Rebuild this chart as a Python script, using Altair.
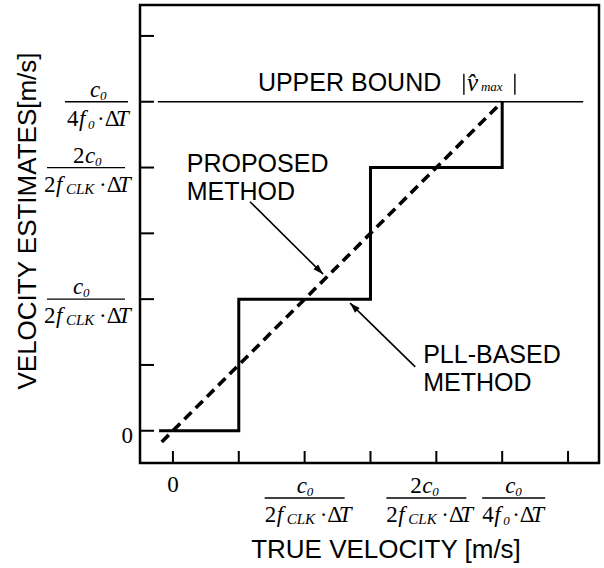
import altair as alt
import pandas as pd

# ---------------- data ----------------
tick_values = [0, 1, 2, 3, 4, 5, 6]

pll_x = [-0.21, 1, 1, 3, 3, 5, 5]
pll_y = [0, 0, 2, 2, 4, 4, 5]

proposed_x = [-0.17, 5]
proposed_y = [-0.17, 5]

bound_x = [-0.23, 6.23]
bound_y = [5, 5]

arrow_names = ["proposed", "pll"]
arrow_start_x = [1.17, 3.68]
arrow_start_y = [3.48, 0.97]
arrow_tip_x = [2.28, 2.69]
arrow_tip_y = [2.38, 1.94]

zero_label = "0"
frac_values = [2, 4, 5]
frac_numerators = ["c0", "2c0", "c0"]
frac_denominators = ["2fCLK·ΔT", "2fCLK·ΔT", "4f0·ΔT"]

annotation_texts = ["UPPER BOUND", "PROPOSED\nMETHOD", "PLL-BASED\nMETHOD"]
annotation_x = [1.29, 0.21, 3.80]
annotation_y = [5, 3.93, 1.03]
vmax_texts = ["v\u0302", "max"]

x_title = "TRUE VELOCITY [m/s]"
y_title = "VELOCITY ESTIMATES[m/s]"

x_domain = [-0.5, 6.47]
y_domain = [-0.49, 6.47]

# ---------------- layout / style ----------------
W, H = 459, 458
SERIF = "Liberation Serif"
SANS = "Liberation Sans"
FS = 23      # serif label size
SUB = 13     # subscript size

# pieces: (text, size, style, dx from left, dy from baseline)
NUM_LAYOUT = {
    "c0": [("c", FS, "italic", 0, 0), ("0", SUB, "italic", 10, 3)],
    "2c0": [("2", FS, "normal", 0, 0), ("c", FS, "italic", 12, 0), ("0", SUB, "italic", 22, 3)],
}
DEN_LAYOUT = {
    "2fCLK·ΔT": [("2", FS, "normal", 0, 0), ("f", FS, "italic", 12, 0),
                  ("CLK", 15, "italic", 22, 2), ("·Δ", FS, "normal", 55, 0),
                  ("T", FS, "italic", 74, 0)],
    "4f0·ΔT": [("4", FS, "normal", 0, 0), ("f", FS, "italic", 12, 0),
                ("0", SUB, "italic", 21, 3), ("·Δ", FS, "normal", 30, 0),
                ("T", FS, "italic", 49, 0)],
}
# fraction placement (pixels relative to tick / axis)
Y_FRAC = {2: dict(bar=(-93, -15), num=-67, den=-96),
          4: dict(bar=(-93, -15), num=-67, den=-96),
          5: dict(bar=(-75, -12), num=-50, den=-73)}
X_FRAC = {2: dict(bar=(-40, 40), num=-8, den=-40),
          4: dict(bar=(-50, 30), num=-26, den=-50),
          5: dict(bar=(-20, 43), num=3, den=-20)}
NUM_DY = -5
DEN_DY = 24
X_BAR_Y = 493

xs = alt.Scale(domain=x_domain, nice=False, zero=False)
ys = alt.Scale(domain=y_domain, nice=False, zero=False)


def X(f):
    return alt.X(f"{f}:Q", scale=xs, axis=None)


def Y(f):
    return alt.Y(f"{f}:Q", scale=ys, axis=None)


def txt(**kw):
    base = dict(color="black", fill="black", align="left", baseline="alphabetic")
    base.update(kw)
    return base


layers = []

# ticks (inward)
tdf = pd.DataFrame({"v": tick_values})
layers.append(alt.Chart(tdf).mark_rule(color="black", strokeWidth=2).encode(
    x=X("v"), y=alt.value(H), y2=alt.value(H - 12)))
layers.append(alt.Chart(tdf).mark_rule(color="black", strokeWidth=2).encode(
    y=Y("v"), x=alt.value(0), x2=alt.value(14)))

# upper bound line
bdf = pd.DataFrame({"x": bound_x, "y": bound_y})
layers.append(alt.Chart(bdf).mark_line(color="black", strokeWidth=1.6).encode(x=X("x"), y=Y("y")))

# PLL staircase
pdf = pd.DataFrame({"x": pll_x, "y": pll_y, "o": list(range(len(pll_x)))})
layers.append(alt.Chart(pdf).mark_line(color="black", strokeWidth=3, strokeJoin="miter").encode(
    x=X("x"), y=Y("y"), order="o:Q"))

# proposed (dashed)
qdf = pd.DataFrame({"x": proposed_x, "y": proposed_y})
layers.append(alt.Chart(qdf).mark_line(color="black", strokeWidth=3.6, strokeDash=[10, 6]).encode(
    x=X("x"), y=Y("y")))

# arrows
adf = pd.DataFrame({
    "name": arrow_names * 2,
    "x": arrow_start_x + arrow_tip_x,
    "y": arrow_start_y + arrow_tip_y,
    "o": [0, 0, 1, 1],
})
layers.append(alt.Chart(adf).mark_line(color="black", strokeWidth=1.6).encode(
    x=X("x"), y=Y("y"), detail="name:N", order="o:Q"))
ARROW = "M0,0 L-0.32,1 L0.32,1 Z"
for i, ang in zip(range(2), [135, 315]):
    hdf = pd.DataFrame({"x": [arrow_tip_x[i]], "y": [arrow_tip_y[i]]})
    layers.append(alt.Chart(hdf).mark_point(shape=ARROW, size=420, filled=True, color="black",
                                            opacity=1, strokeWidth=0, angle=ang).encode(
        x=X("x"), y=Y("y")))

# annotations
ann_df = pd.DataFrame({"x": annotation_x, "y": annotation_y, "t": annotation_texts})
layers.append(alt.Chart(ann_df.iloc[[0]]).mark_text(
    **txt(font=SANS, fontSize=25, dy=-11)).encode(x=X("x"), y=Y("y"), text="t:N"))
layers.append(alt.Chart(ann_df.iloc[1:]).mark_text(
    **txt(font=SANS, fontSize=25, lineBreak="\n", lineHeight=28)).encode(
    x=X("x"), y=Y("y"), text="t:N"))

# |v̂max| next to UPPER BOUND: the two bars as rules, the letters as text
for bar_dx in (206, 257):
    d = pd.DataFrame({"x": [annotation_x[0]], "y": [annotation_y[0]]})
    layers.append(alt.Chart(d).mark_rule(color="black", strokeWidth=1.4,
                                         xOffset=bar_dx, x2Offset=bar_dx,
                                         yOffset=-28, y2Offset=-7).encode(
        x=X("x"), x2="x:Q", y=Y("y"), y2="y:Q"))
vmax_pieces = [(vmax_texts[0], 25, "italic", 209, 0), (vmax_texts[1], SUB, "italic", 223, 0)]
for t, s, st, dx, dy in vmax_pieces:
    d = pd.DataFrame({"x": [annotation_x[0]], "y": [annotation_y[0]], "t": [t]})
    layers.append(alt.Chart(d).mark_text(**txt(font=SERIF, fontSize=s, fontStyle=st,
                                               dx=dx, dy=-11 + dy)).encode(
        x=X("x"), y=Y("y"), text="t:N"))


# ---------------- tick labels ----------------
def ypieces(value, pieces, left, base_dy):
    out = []
    for t, s, st, dx, dy in pieces:
        d = pd.DataFrame({"v": [value], "t": [t]})
        out.append(alt.Chart(d).mark_text(**txt(font=SERIF, fontSize=s, fontStyle=st,
                                                dy=base_dy + dy)).encode(
            x=alt.value(left + dx), y=Y("v"), text="t:N"))
    return out


def xpieces(value, pieces, left, base_y):
    out = []
    for t, s, st, dx, dy in pieces:
        d = pd.DataFrame({"v": [value], "t": [t]})
        out.append(alt.Chart(d).mark_text(**txt(font=SERIF, fontSize=s, fontStyle=st,
                                                dx=left + dx, dy=dy)).encode(
            x=X("v"), y=alt.value(base_y), text="t:N"))
    return out


# zeros
z = pd.DataFrame({"v": [0], "t": [zero_label]})
layers.append(alt.Chart(z).mark_text(**txt(font=SERIF, fontSize=FS, align="right", dy=12)).encode(
    x=alt.value(-7), y=Y("v"), text="t:N"))
layers.append(alt.Chart(z).mark_text(**txt(font=SERIF, fontSize=FS, align="center")).encode(
    x=X("v"), y=alt.value(487), text="t:N"))

for v, num, den in zip(frac_values, frac_numerators, frac_denominators):
    # y axis fraction
    g = Y_FRAC[v]
    d = pd.DataFrame({"v": [v]})
    layers.append(alt.Chart(d).mark_rule(color="black", strokeWidth=1.3).encode(
        y=Y("v"), x=alt.value(g["bar"][0]), x2=alt.value(g["bar"][1])))
    layers += ypieces(v, NUM_LAYOUT[num], g["num"], NUM_DY)
    layers += ypieces(v, DEN_LAYOUT[den], g["den"], DEN_DY)
    # x axis fraction
    g = X_FRAC[v]
    layers.append(alt.Chart(d).mark_rule(color="black", strokeWidth=1.3,
                                         xOffset=g["bar"][0], x2Offset=g["bar"][1]).encode(
        x=X("v"), x2="v:Q", y=alt.value(X_BAR_Y)))
    layers += xpieces(v, NUM_LAYOUT[num], g["num"], X_BAR_Y + NUM_DY)
    layers += xpieces(v, DEN_LAYOUT[den], g["den"], X_BAR_Y + DEN_DY)

# axis titles
layers.append(alt.Chart(pd.DataFrame({"t": [x_title]})).mark_text(
    **txt(font=SANS, fontSize=26, align="center")).encode(
    x=alt.value(246), y=alt.value(553), text="t:N"))
layers.append(alt.Chart(pd.DataFrame({"t": [y_title]})).mark_text(
    **txt(font=SANS, fontSize=26, align="center", baseline="middle", angle=270)).encode(
    x=alt.value(-112), y=alt.value(216), text="t:N"))

chart = alt.layer(*layers).properties(
    width=W, height=H,
    autosize=alt.AutoSizeParams(type="none"),
    padding={"left": 140, "top": 5, "right": 5, "bottom": 105},
    background="white",
).configure_view(stroke="black", strokeWidth=2.5)

chart.save("out.html", embed_options={"renderer": "svg", "actions": False})
